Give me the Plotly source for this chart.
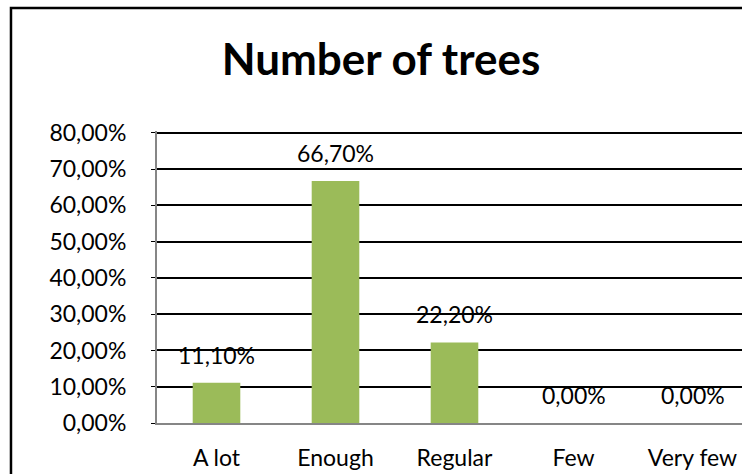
import plotly.graph_objects as go

# Survey answers: how many trees are there
categories = ["A lot", "Enough", "Regular", "Few", "Very few"]
shares = [0.111, 0.667, 0.222, 0.0, 0.0]
y_ticks = [0.0, 0.1, 0.2, 0.3, 0.4, 0.5, 0.6, 0.7, 0.8]

FONT = "Lato"
W, H = 742, 474

fig = go.Figure()

fig.add_trace(go.Bar(
    x=categories,
    y=shares,
    width=0.4,
    marker=dict(color="#9BBB59", line=dict(width=0)),
    hoverinfo="skip",
))

# data labels sit above each bar, as in the spreadsheet original
for c, v in zip(categories, shares):
    fig.add_annotation(
        x=c, y=v,
        text=("%.2f%%" % (v * 100)).replace(".", ","),
        showarrow=False,
        yanchor="middle",
        yshift=28,
        font=dict(family=FONT, size=23, color="#000000"),
    )

# chart frame
fig.add_shape(
    type="rect", xref="paper", yref="paper",
    x0=-0.2496, x1=1.2, y0=-0.4, y1=1.421,
    line=dict(color="#000000", width=2.5),
    fillcolor="rgba(0,0,0,0)",
    layer="above",
)

fig.update_layout(
    width=W,
    height=H,
    margin=dict(l=157, r=0, t=131, b=51),
    paper_bgcolor="white",
    plot_bgcolor="white",
    separators=",.",
    showlegend=False,
    font=dict(family=FONT, size=23, color="#000000"),
    title=dict(
        text="<b>Number of trees</b>",
        x=381 / W, xanchor="center",
        y=1 - 60 / H, yanchor="middle",
        font=dict(family=FONT, size=44, color="#000000"),
    ),
    xaxis=dict(
        type="category",
        range=[-0.5, 4.416],
        showgrid=False,
        showline=True,
        linecolor="#868686",
        linewidth=2,
        ticks="",
        ticklabelstandoff=13,
        tickfont=dict(family=FONT, size=23),
        automargin=False,
        fixedrange=True,
    ),
    yaxis=dict(
        # a little headroom so the 80% gridline is not dropped at the edge
        range=[0, 0.805],
        tickvals=y_ticks,
        tickformat=".2%",
        showgrid=True,
        gridcolor="#000000",
        gridwidth=1.5,
        zeroline=False,
        showline=True,
        linecolor="#868686",
        linewidth=2,
        ticks="outside",
        ticklen=4,
        tickcolor="#000000",
        ticklabelstandoff=20,
        tickfont=dict(family=FONT, size=23),
        automargin=False,
        fixedrange=True,
    ),
)

# drop the default page margin so the figure fills the window
fig.write_html(
    "out.html",
    config={"displayModeBar": False},
    post_script="document.body.style.margin='0';document.body.style.overflow='hidden';",
)
